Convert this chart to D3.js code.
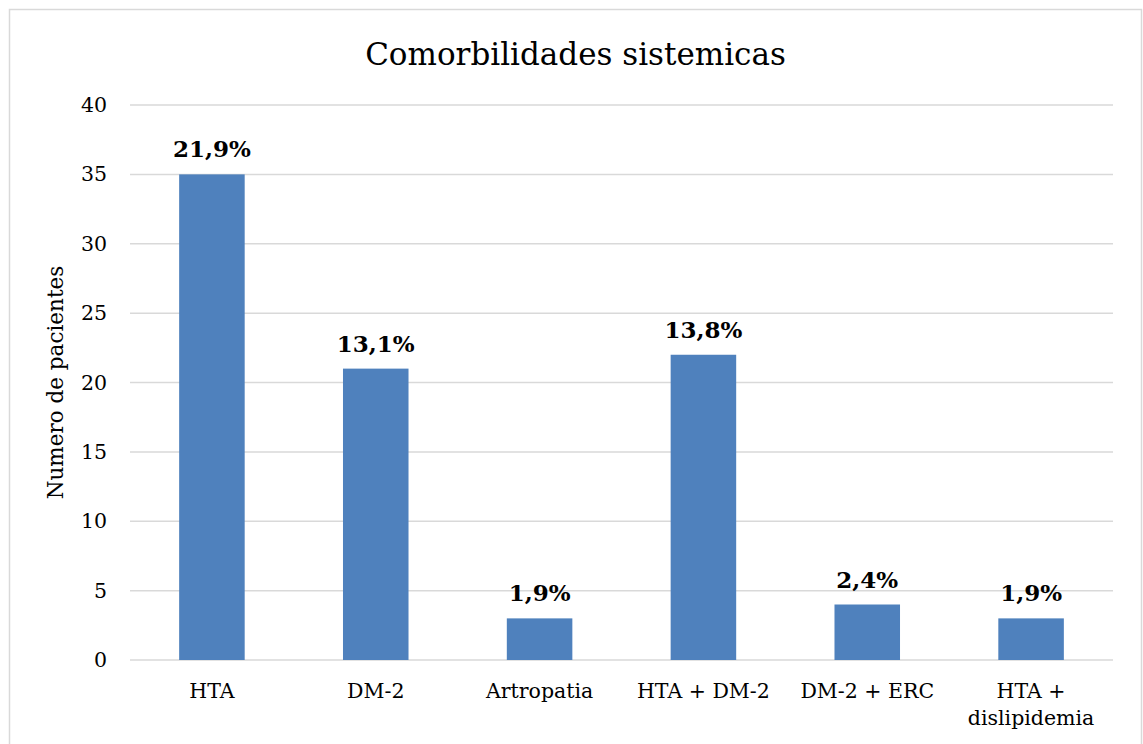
<!DOCTYPE html>
<html>
<head>
<meta charset="utf-8">
<script src="https://cdn.jsdelivr.net/npm/d3@7"></script>
<style>
  body { margin: 0; background: #fff; }
  svg text { font-family: "DejaVu Serif", "Liberation Serif", serif; fill: #000; }
  .grid line { stroke: #d9d9d9; stroke-width: 1.5; }
  .bar { fill: #4f81bd; }
  .pct { font-weight: bold; font-size: 23px; }
</style>
</head>
<body>
<div id="chart"></div>
<script>
var categories = ["HTA", "DM-2", "Artropatia", "HTA + DM-2", "DM-2 + ERC", "HTA + dislipidemia"];
var pacientes = [35, 21, 3, 22, 4, 3];
var porcentajes = ["21,9%", "13,1%", "1,9%", "13,8%", "2,4%", "1,9%"];
var yTicks = [0, 5, 10, 15, 20, 25, 30, 35, 40];

var w = 1143, h = 744;
var padLeft = 130, padRight = 1113, padTop = 105, padBottom = 660;

var svg = d3.select("#chart").append("svg")
    .attr("width", w)
    .attr("height", h);

// outer frame
svg.append("rect")
    .attr("x", 9.5).attr("y", 9.5)
    .attr("width", 1132).attr("height", 745)
    .attr("fill", "none")
    .attr("stroke", "#d9d9d9")
    .attr("stroke-width", 1.5);

var xScale = d3.scaleBand()
    .domain(categories)
    .range([padLeft, padRight])
    .paddingInner(0.6)
    .paddingOuter(0.3);

var yScale = d3.scaleLinear()
    .domain([0, 40])
    .range([padBottom, padTop]);

// gridlines
svg.append("g")
    .attr("class", "grid")
    .selectAll("line")
    .data(yTicks)
    .enter().append("line")
    .attr("x1", padLeft).attr("x2", padRight)
    .attr("y1", function(d) { return yScale(d); })
    .attr("y2", function(d) { return yScale(d); });

// y axis labels
var yAxis = d3.axisLeft(yScale).tickValues(yTicks).tickSize(0).tickPadding(0);
var gy = svg.append("g")
    .attr("transform", "translate(" + (padLeft - 23) + ",0)")
    .call(yAxis);
gy.select(".domain").remove();
gy.selectAll("text").style("font-size", "20.5px").attr("fill", "#000");

// bars
svg.selectAll(".bar")
    .data(pacientes)
    .enter().append("rect")
    .attr("class", "bar")
    .attr("x", function(d, i) { return xScale(categories[i]); })
    .attr("width", xScale.bandwidth())
    .attr("y", function(d) { return yScale(d); })
    .attr("height", function(d) { return yScale(0) - yScale(d); });

// percentage labels
svg.selectAll(".pct")
    .data(pacientes)
    .enter().append("text")
    .attr("class", "pct")
    .attr("text-anchor", "middle")
    .attr("x", function(d, i) { return xScale(categories[i]) + xScale.bandwidth() / 2; })
    .attr("y", function(d) { return yScale(d) - 17; })
    .text(function(d, i) { return porcentajes[i]; });

// x axis labels
var xAxis = d3.axisBottom(xScale).tickSize(0).tickPadding(0);
var gx = svg.append("g")
    .attr("transform", "translate(0," + (padBottom + 38) + ")")
    .call(xAxis);
gx.select(".domain").remove();
gx.selectAll("text")
    .style("font-size", "20.5px")
    .attr("fill", "#000")
    .attr("y", 0)
    .attr("dy", null)
    .each(function(d) {
        var t = d3.select(this);
        if (d === "HTA + dislipidemia") {
            t.text(null);
            t.append("tspan").attr("x", 0).attr("dy", 0).text("HTA +");
            t.append("tspan").attr("x", 0).attr("dy", 27).text("dislipidemia");
        }
    });

// y axis title
svg.append("text")
    .attr("transform", "translate(63," + ((padTop + padBottom) / 2) + ") rotate(-90)")
    .attr("text-anchor", "middle")
    .style("font-size", "21.5px")
    .text("Numero de pacientes");

// title
svg.append("text")
    .attr("x", w / 2 + 4)
    .attr("y", 65)
    .attr("text-anchor", "middle")
    .style("font-size", "31px")
    .text("Comorbilidades sistemicas");
</script>
</body>
</html>
